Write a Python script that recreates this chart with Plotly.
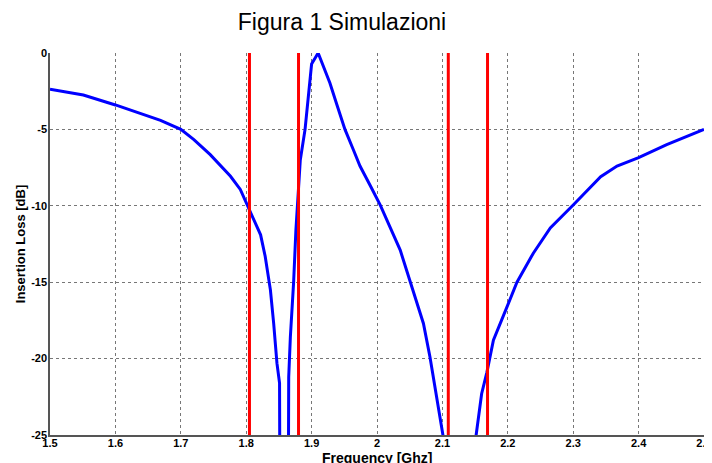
import plotly.graph_objects as go

# Blue curve: simulated insertion loss (values below -25 are clipped by the axis)
freq_ghz = [1.5, 1.551, 1.6, 1.638, 1.669, 1.7, 1.72, 1.745, 1.776, 1.791, 1.801,
            1.822, 1.829, 1.837, 1.842, 1.847, 1.851, 1.852, 1.864, 1.865, 1.8675,
            1.8725, 1.876, 1.879, 1.8827, 1.890, 1.900, 1.910, 1.928, 1.9388, 1.951,
            1.964, 1.974, 1.990, 2.005, 2.0355, 2.051, 2.071, 2.081, 2.0916, 2.1008,
            2.11, 2.145, 2.1516, 2.160, 2.168, 2.178, 2.198, 2.214, 2.239, 2.265,
            2.300, 2.342, 2.367, 2.400, 2.443, 2.474, 2.500]
loss_db = [-2.37, -2.75, -3.4, -3.93, -4.41, -5.0, -5.67, -6.65, -8.07, -8.93, -9.9,
           -11.9, -13.3, -15.5, -17.7, -20.3, -21.6, -35.0, -35.0, -21.2, -18.6,
           -15.0, -11.6, -9.2, -7.0, -5.0, -0.72, 0.0, -1.96, -3.4, -5.0,
           -6.35, -7.4, -8.7, -9.95, -12.9, -15.0, -17.7, -19.9, -22.5, -25.0,
           -30.0, -30.0, -25.0, -22.3, -20.9, -18.8, -16.7, -15.0, -13.1, -11.45,
           -9.95, -8.1, -7.4, -6.85, -6.0, -5.46, -5.0]

# Red vertical markers (band edges)
red_freqs = [1.805, 1.88, 2.109, 2.169]

x_ticks = [1.5, 1.6, 1.7, 1.8, 1.9, 2.0, 2.1, 2.2, 2.3, 2.4, 2.5]
x_tick_labels = ["1.5", "1.6", "1.7", "1.8", "1.9", "2", "2.1", "2.2", "2.3", "2.4", "2.5"]
y_ticks = [0, -5, -10, -15, -20, -25]
y_tick_labels = ["0", "-5", "-10", "-15", "-20", "-25"]

title_text = "Figura 1 Simulazioni"
x_title = "Frequency [Ghz]"
y_title = "Insertion Loss [dB]"

# The page body adds an 8px offset; size the figure to fit the 712x463 window.
W, H = 704, 455

fig = go.Figure()
fig.add_trace(go.Scatter(x=freq_ghz, y=loss_db, mode="lines",
                         line=dict(color="#0000FF", width=3), showlegend=False))
for f in red_freqs:
    fig.add_trace(go.Scatter(x=[f, f], y=[y_ticks[0], y_ticks[-1]], mode="lines",
                             line=dict(color="#FF0000", width=3), showlegend=False))

font_fam = "Liberation Sans, Arial, sans-serif"
fig.update_layout(
    width=W, height=H,
    margin=dict(l=42, r=8, t=45, b=28, pad=0),
    paper_bgcolor="white", plot_bgcolor="white",
    title=dict(text=title_text, x=334 / W, xanchor="center", y=1 - 14 / H,
               yanchor="middle", automargin=False,
               font=dict(family=font_fam, size=23, color="black")),
    showlegend=False,
    annotations=[dict(text=x_title, xref="paper", yref="paper", x=0.5, y=-23 / 382,
                      xanchor="center", yanchor="middle", showarrow=False,
                      font=dict(family=font_fam, size=14, color="black", weight="bold"))],
)
fig.update_xaxes(
    range=[1.5, 2.5], tickvals=x_ticks, ticktext=x_tick_labels,
    showgrid=True, gridcolor="#777777", griddash="dot", gridwidth=1,
    showline=True, linecolor="#555555", linewidth=1.5, mirror=False,
    ticks="", zeroline=False, automargin=False, ticklabelstandoff=-3,
    tickfont=dict(family=font_fam, size=11, color="black", weight="bold"),
)
fig.update_yaxes(
    range=[-25, 0], tickvals=y_ticks, ticktext=y_tick_labels,
    showgrid=True, gridcolor="#777777", griddash="dot", gridwidth=1,
    showline=True, linecolor="#555555", linewidth=1.5, mirror=False,
    ticks="", zeroline=False, automargin=False, ticklabelstandoff=-1,
    tickfont=dict(family=font_fam, size=11, color="black", weight="bold"),
    title=dict(text=y_title, standoff=3,
               font=dict(family=font_fam, size=13, color="black", weight="bold")),
)

fig.write_html("out.html")
